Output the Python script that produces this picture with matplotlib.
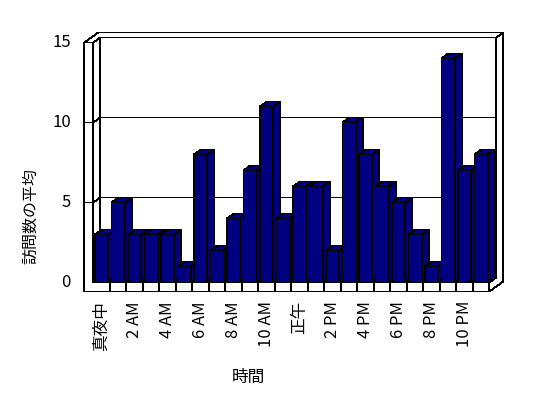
import matplotlib
matplotlib.use("Agg")
import matplotlib.pyplot as plt
from matplotlib.patches import Polygon

plt.rcParams['font.family'] = ['Noto Sans CJK JP', 'DejaVu Sans']

# Data: average visits per hour
HOURS = list(range(24))
VISITS = [3, 5, 3, 3, 3, 1, 8, 2, 4, 7, 11, 4, 6, 6, 2, 10, 8, 6, 5, 3, 1, 14, 7, 8]
TICK_LABELS = ['真夜中', '2 AM', '4 AM', '6 AM', '8 AM', '10 AM',
               '正午', '2 PM', '4 PM', '6 PM', '8 PM', '10 PM']
Y_TICKS = [0, 5, 10, 15]
X_TITLE = '時間'
Y_TITLE = '訪問数の平均'

# Pixel geometry of the fake 3D box (half-pixel origin keeps aliased lines 1px)
W, H = 548, 398
CAT_PX = 16.5          # px per category
VAL_PX = 16            # px per value unit
X0_PX, Y0_PX = 93.3, 282.5
DX = 7 / CAT_PX        # depth shift (category units)
DY = 5 / VAL_PX        # depth shift (value units)
WALL = 9 / CAT_PX      # left wall thickness
FLOOR = 9 / VAL_PX     # floor thickness
YMAX = Y_TICKS[-1]
BAR_W = 0.8
NAVY = '#000080'
LW = 0.65


def px_x(p):
    return (p - X0_PX) / CAT_PX


def px_y(p):
    return (Y0_PX - p) / VAL_PX


def face(ax, pts, fc='white', z=1):
    ax.add_patch(Polygon(pts, closed=True, fc=fc, ec='black', lw=LW, snap=False,
                         joinstyle='miter', antialiased=False, zorder=z))


def line(ax, xs, ys):
    ax.plot(xs, ys, color='black', lw=LW, antialiased=False, snap=False, zorder=1.5)


fig = plt.figure(figsize=(W / 100, H / 100), dpi=100)
ax = fig.add_axes([0, 0, 1, 1])
ax.set_xlim(px_x(0), px_x(W))
ax.set_ylim(px_y(H), px_y(0))
ax.axis('off')

n = len(VISITS)

# back wall, left wall inner side, floor top
face(ax, [(DX, DY), (n + DX, DY), (n + DX, YMAX + DY), (DX, YMAX + DY)])
face(ax, [(0, 0), (DX, DY), (DX, YMAX + DY), (0, YMAX)])
face(ax, [(0, 0), (n, 0), (n + DX, DY), (DX, DY)])
# top of walls
face(ax, [(-WALL, YMAX), (0, YMAX), (DX, YMAX + DY), (n + DX, YMAX + DY),
          (n + 2 * DX, YMAX + 2 * DY), (-WALL + 2 * DX, YMAX + 2 * DY)])
# right side of floor and back wall
face(ax, [(n, 0), (n, -FLOOR), (n + 2 * DX, -FLOOR + 2 * DY),
          (n + 2 * DX, YMAX + 2 * DY), (n + DX, YMAX + DY), (n + DX, DY)])
# front of left wall + floor
face(ax, [(-WALL, -FLOOR), (n, -FLOOR), (n, 0), (0, 0), (0, YMAX), (-WALL, YMAX)])
for i in range(1, n):
    line(ax, [i, i], [-FLOOR, 0])

# gridlines and ticks
for v in Y_TICKS[1:-1]:
    line(ax, [0, DX, n + DX], [v, v + DY, v + DY])
    line(ax, [-WALL, 0], [v, v])

# bars, left to right so each covers the previous side face
for i, v in zip(HOURS, VISITS):
    x0, x1 = i + (1 - BAR_W) / 2, i + (1 + BAR_W) / 2
    z = 3 + i * 0.01
    face(ax, [(x1, 0), (x1 + DX, DY), (x1 + DX, v + DY), (x1, v)], NAVY, z)
    face(ax, [(x0, v), (x1, v), (x1 + DX, v + DY), (x0 + DX, v + DY)], NAVY, z)
    face(ax, [(x0, 0), (x1, 0), (x1, v), (x0, v)], NAVY, z)

# labels
for v in Y_TICKS:
    ax.text(px_x(71), v, str(v), ha='right', va='center', fontsize=12)
for lab, hr in zip(TICK_LABELS, HOURS[::2]):
    ax.text(hr + 0.5, px_y(301), lab, rotation=90, ha='center', va='top', fontsize=12)
ax.text(px_x(248), px_y(377), X_TITLE, ha='center', va='center', fontsize=12)
ax.text(px_x(31), px_y(216), Y_TITLE, rotation=90, ha='center', va='center', fontsize=11.5)

fig.savefig('out.png', dpi=100)
